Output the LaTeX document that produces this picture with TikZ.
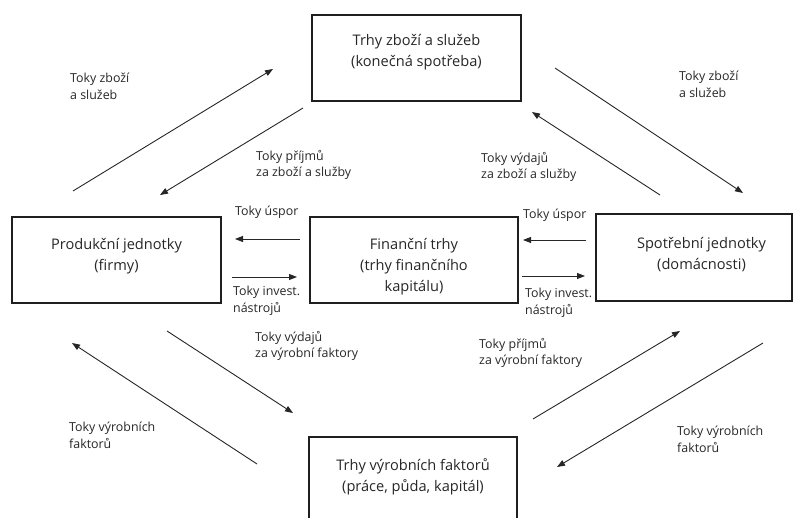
\documentclass[tikz,border=0pt]{standalone}
\usepackage{fontspec}
\setmainfont{Open Sans}
\usetikzlibrary{arrows.meta}
\newcommand\boxtxt[4]{\begin{minipage}[c][#2][t]{#1}\centering\leavevmode\rule{0pt}{#3}#4\end{minipage}}
\begin{document}
\begin{tikzpicture}[x=1pt,y=-1pt,
  box/.style={draw=black!88, line width=1.2pt, inner sep=0pt, text=black!85,
    font=\fontsize{14.6}{21}\selectfont},
  lbl/.style={anchor=north west, inner sep=0pt, align=left, text=black!85,
    font=\fontsize{12.4}{16.5}\selectfont},
  flow/.style={draw=black!85, line width=0.9pt, -{Triangle[length=8pt,width=6pt]}}]
\clip (0,0) rectangle (793,518);
% boxes
\node[box] (T) at (416.5,58) {\boxtxt{209pt}{86pt}{31pt}{Trhy zboží a služeb\\(konečná spotřeba)}};
\node[box] (P) at (116.5,260) {\boxtxt{209pt}{86pt}{33pt}{Produkční jednotky\\(firmy)}};
\node[box] (F) at (414,260) {\boxtxt{208pt}{86pt}{33pt}{Finanční trhy\\(trhy finančního\\kapitálu)}};
\node[box] (S) at (694,257.5) {\boxtxt{196pt}{87pt}{35pt}{\hspace*{15pt}Spotřební jednotky\\\hspace*{15pt}(domácnosti)}};
\node[box] (B) at (413,480) {\boxtxt{208pt}{86pt}{34pt}{Trhy výrobních faktorů\\(práce, půda, kapitál)}};
% arrow end points
\coordinate (a1s) at (73,191);  \coordinate (a1e) at (273,69);
\coordinate (a2s) at (303,108); \coordinate (a2e) at (160,195);
\coordinate (a3s) at (555,68);  \coordinate (a3e) at (743,193);
\coordinate (a4s) at (660,195); \coordinate (a4e) at (532,112);
\coordinate (a5s) at (300,239); \coordinate (a5e) at (235,239);
\coordinate (a6s) at (232,277); \coordinate (a6e) at (297,277);
\coordinate (a7s) at (586,240); \coordinate (a7e) at (523,240);
\coordinate (a8s) at (522,276); \coordinate (a8e) at (585,276);
\coordinate (a9s) at (167,331); \coordinate (a9e) at (293,413);
\coordinate (a10s) at (257,464); \coordinate (a10e) at (72,343);
\coordinate (a11s) at (533,419); \coordinate (a11e) at (680,331);
\coordinate (a12s) at (763,343); \coordinate (a12e) at (557,467);
\foreach \i in {1,...,12} {\draw[flow] (a\i s) -- (a\i e);}
% labels
\node[lbl] (l1) at (70,73) {Toky zboží\\a služeb};
\node[lbl] (l2) at (256,150) {Toky příjmů\\za zboží a služby};
\node[lbl] (l3) at (679,71) {Toky zboží\\a služeb};
\node[lbl] (l4) at (481,152) {Toky výdajů\\za zboží a služby};
\node[lbl] (l5) at (235,206) {Toky úspor};
\node[lbl] (l6) at (233,286) {Toky invest.\\nástrojů};
\node[lbl] (l7) at (523,209) {Toky úspor};
\node[lbl] (l8) at (525,288) {Toky invest.\\nástrojů};
\node[lbl] (l9) at (255,331) {Toky výdajů\\za výrobní faktory};
\node[lbl] (l10) at (479,338) {Toky příjmů\\za výrobní faktory};
\node[lbl] (l11) at (69,422) {Toky výrobních\\faktorů};
\node[lbl] (l12) at (677,426) {Toky výrobních\\faktorů};
\end{tikzpicture}
\end{document}
